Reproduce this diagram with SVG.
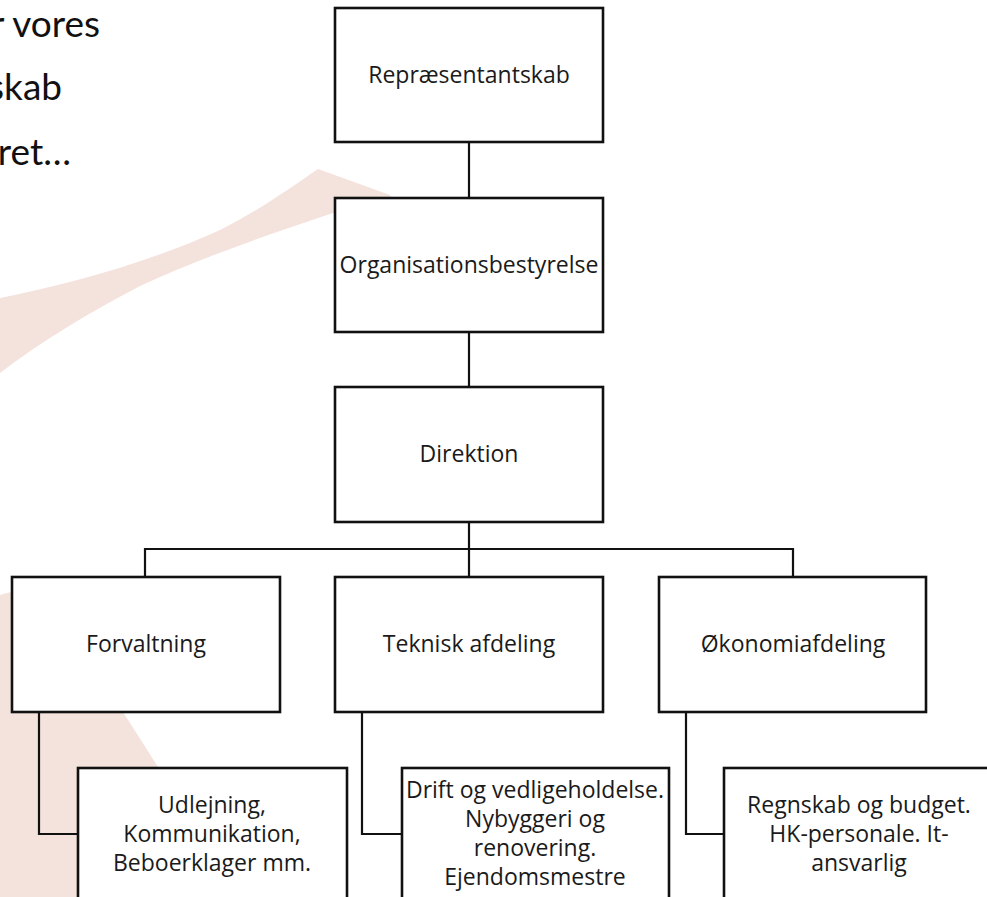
<svg xmlns="http://www.w3.org/2000/svg" width="987" height="897" viewBox="0 0 987 897">
  <style>
    .box { fill: #ffffff; stroke: #111111; stroke-width: 2.6; }
    .lbl { font-family: "Open Sans", "Noto Sans", "Liberation Sans", sans-serif; font-size: 23px; fill: #1a1a1a; text-anchor: middle; }
    .head { font-family: "Lato", "Open Sans", "Liberation Sans", sans-serif; font-size: 37px; fill: #111111; text-anchor: end; }
    .conn { fill: none; stroke: #111111; stroke-width: 2.2; }
    .bg { fill: #f4e2dc; }
  </style>
  <rect x="0" y="0" width="987" height="897" fill="#ffffff"/>

  <!-- background decoration -->
  <g id="background">
    <path class="bg" d="M0,298 C70,284 150,262 220,230 C260,210 290,188 318,169 L390,195 L392,205 L333,213 C270,234 200,258 140,286 C90,312 40,342 0,373 Z"/>
    <path class="bg" d="M0,595 C30,587 60,584 85,590 L123,712 L158,767 L200,767 L200,897 L0,897 Z"/>
  </g>

  <!-- top-left title fragment -->
  <g id="title">
    <text class="head" x="100" y="37">r vores</text>
    <text class="head" x="62" y="100">skab</text>
    <text class="head" x="71" y="165">ret…</text>
  </g>

  <!-- connectors -->
  <g id="connectors">
    <line class="conn" x1="469" y1="142" x2="469" y2="198"/>
    <line class="conn" x1="469" y1="332" x2="469" y2="387"/>
    <line class="conn" x1="469" y1="522" x2="469" y2="577"/>
    <polyline class="conn" points="145,577 145,549 793,549 793,577"/>
    <polyline class="conn" points="39,712 39,834 78,834"/>
    <polyline class="conn" points="362,712 362,834 402,834"/>
    <polyline class="conn" points="686,712 686,834 724,834"/>
  </g>

  <g id="node-repraesentantskab">
    <rect class="box" x="335" y="8" width="268" height="134"/>
    <text class="lbl" x="469" y="83">Repræsentantskab</text>
  </g>
  <g id="node-organisationsbestyrelse">
    <rect class="box" x="335" y="198" width="268" height="134"/>
    <text class="lbl" x="469" y="273">Organisationsbestyrelse</text>
  </g>
  <g id="node-direktion">
    <rect class="box" x="335" y="387" width="268" height="135"/>
    <text class="lbl" x="469" y="462">Direktion</text>
  </g>
  <g id="node-forvaltning">
    <rect class="box" x="12" y="577" width="268" height="135"/>
    <text class="lbl" x="146" y="652">Forvaltning</text>
  </g>
  <g id="node-teknisk">
    <rect class="box" x="335" y="577" width="268" height="135"/>
    <text class="lbl" x="469" y="652">Teknisk afdeling</text>
  </g>
  <g id="node-oekonomi">
    <rect class="box" x="659" y="577" width="267" height="135"/>
    <text class="lbl" x="793" y="652">Økonomiafdeling</text>
  </g>
  <g id="node-udlejning">
    <rect class="box" x="78" y="768" width="269" height="160"/>
    <text class="lbl" x="212" y="813">Udlejning,</text>
    <text class="lbl" x="212" y="842">Kommunikation,</text>
    <text class="lbl" x="212" y="871">Beboerklager mm.</text>
  </g>
  <g id="node-drift">
    <rect class="box" x="402" y="768" width="267" height="160"/>
    <text class="lbl" x="535" y="798">Drift og vedligeholdelse.</text>
    <text class="lbl" x="535" y="827">Nybyggeri og</text>
    <text class="lbl" x="535" y="856">renovering.</text>
    <text class="lbl" x="535" y="885">Ejendomsmestre</text>
  </g>
  <g id="node-regnskab">
    <rect class="box" x="724" y="768" width="271" height="160"/>
    <text class="lbl" x="859" y="813">Regnskab og budget.</text>
    <text class="lbl" x="859" y="842">HK-personale. It-</text>
    <text class="lbl" x="859" y="871">ansvarlig</text>
  </g>
</svg>
